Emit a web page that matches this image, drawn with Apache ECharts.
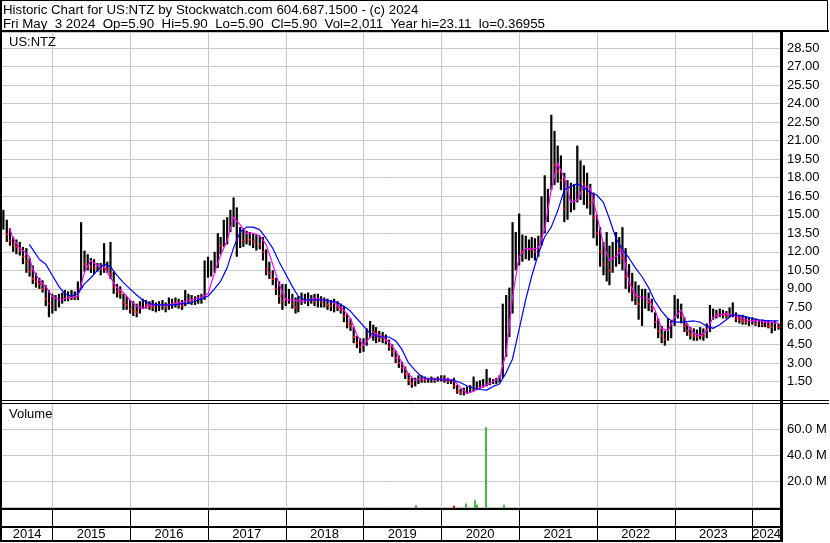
<!DOCTYPE html>
<html><head><meta charset="utf-8">
<script src="https://cdn.jsdelivr.net/npm/echarts@6/dist/echarts.min.js"></script>
<style>html,body{margin:0;padding:0;background:#fff}#c{width:830px;height:543px}</style>
</head><body><div id="c"></div>
<script>
// ---- price bars (semi-monthly high / low / close) ----
const dates = [
'2014-05-16','2014-06-01','2014-06-16','2014-07-01','2014-07-16','2014-08-01','2014-08-16','2014-09-01','2014-09-16','2014-10-01','2014-10-16','2014-11-01','2014-11-16','2014-12-01','2014-12-16',
'2015-01-01','2015-01-16','2015-02-01','2015-02-16','2015-03-01','2015-03-16','2015-04-01','2015-04-16','2015-05-01','2015-05-16','2015-06-01','2015-06-16','2015-07-01','2015-07-16','2015-08-01','2015-08-16','2015-09-01','2015-09-16','2015-10-01','2015-10-16','2015-11-01','2015-11-16','2015-12-01','2015-12-16',
'2016-01-01','2016-01-16','2016-02-01','2016-02-16','2016-03-01','2016-03-16','2016-04-01','2016-04-16','2016-05-01','2016-05-16','2016-06-01','2016-06-16','2016-07-01','2016-07-16','2016-08-01','2016-08-16','2016-09-01','2016-09-16','2016-10-01','2016-10-16','2016-11-01','2016-11-16','2016-12-01','2016-12-16',
'2017-01-01','2017-01-16','2017-02-01','2017-02-16','2017-03-01','2017-03-16','2017-04-01','2017-04-16','2017-05-01','2017-05-16','2017-06-01','2017-06-16','2017-07-01','2017-07-16','2017-08-01','2017-08-16','2017-09-01','2017-09-16','2017-10-01','2017-10-16','2017-11-01','2017-11-16','2017-12-01','2017-12-16',
'2018-01-01','2018-01-16','2018-02-01','2018-02-16','2018-03-01','2018-03-16','2018-04-01','2018-04-16','2018-05-01','2018-05-16','2018-06-01','2018-06-16','2018-07-01','2018-07-16','2018-08-01','2018-08-16','2018-09-01','2018-09-16','2018-10-01','2018-10-16','2018-11-01','2018-11-16','2018-12-01','2018-12-16',
'2019-01-01','2019-01-16','2019-02-01','2019-02-16','2019-03-01','2019-03-16','2019-04-01','2019-04-16','2019-05-01','2019-05-16','2019-06-01','2019-06-16','2019-07-01','2019-07-16','2019-08-01','2019-08-16','2019-09-01','2019-09-16','2019-10-01','2019-10-16','2019-11-01','2019-11-16','2019-12-01','2019-12-16',
'2020-01-01','2020-01-16','2020-02-01','2020-02-16','2020-03-01','2020-03-16','2020-04-01','2020-04-16','2020-05-01','2020-05-16','2020-06-01','2020-06-16','2020-07-01','2020-07-16','2020-08-01','2020-08-16','2020-09-01','2020-09-16','2020-10-01','2020-10-16','2020-11-01','2020-11-16','2020-12-01','2020-12-16',
'2021-01-01','2021-01-16','2021-02-01','2021-02-16','2021-03-01','2021-03-16','2021-04-01','2021-04-16','2021-05-01','2021-05-16','2021-06-01','2021-06-16','2021-07-01','2021-07-16','2021-08-01','2021-08-16','2021-09-01','2021-09-16','2021-10-01','2021-10-16','2021-11-01','2021-11-16','2021-12-01','2021-12-16',
'2022-01-01','2022-01-16','2022-02-01','2022-02-16','2022-03-01','2022-03-16','2022-04-01','2022-04-16','2022-05-01','2022-05-16','2022-06-01','2022-06-16','2022-07-01','2022-07-16','2022-08-01','2022-08-16','2022-09-01','2022-09-16','2022-10-01','2022-10-16','2022-11-01','2022-11-16','2022-12-01','2022-12-16',
'2023-01-01','2023-01-16','2023-02-01','2023-02-16','2023-03-01','2023-03-16','2023-04-01','2023-04-16','2023-05-01','2023-05-16','2023-06-01','2023-06-16','2023-07-01','2023-07-16','2023-08-01','2023-08-16','2023-09-01','2023-09-16','2023-10-01','2023-10-16','2023-11-01','2023-11-16','2023-12-01','2023-12-16',
'2024-01-01','2024-01-16','2024-02-01','2024-02-16','2024-03-01','2024-03-16','2024-04-01','2024-04-16','2024-05-03'
];
const highs = [
15.4,14.6,13.9,13.2,13.0,12.8,12.4,12.3,11.5,10.9,10.3,9.9,9.7,9.3,8.9,
8.6,8.5,8.6,8.7,8.9,8.8,8.9,8.8,9.6,14.4,12.1,11.8,11.5,11.4,11.1,11.1,12.7,11.2,12.8,10.4,9.4,9.2,8.6,8.4,
8.1,8.0,7.8,8.0,8.2,8.1,8.0,8.1,7.9,8.0,8.1,7.9,8.3,8.2,8.3,8.2,8.1,8.9,8.6,8.5,8.4,8.5,8.6,11.3,
11.6,11.3,12.0,13.5,13.2,14.6,14.8,15.4,16.4,15.6,14.0,13.8,13.7,13.6,13.5,13.4,13.3,13.2,12.2,11.2,10.5,9.9,9.6,9.4,
9.4,9.0,8.6,8.3,8.4,8.7,8.6,8.7,8.5,8.6,8.6,8.4,8.3,8.2,8.1,8.2,8.0,7.8,7.6,7.0,6.6,5.9,5.2,5.0,
5.0,5.8,6.4,6.1,5.9,5.6,5.5,5.3,4.9,4.5,4.0,3.6,3.1,2.7,2.2,1.8,1.8,2.0,2.0,1.9,1.8,1.9,1.8,1.9,
2.0,2.0,1.8,1.7,1.8,1.2,0.9,1.0,1.1,1.2,1.9,1.5,1.6,1.7,2.5,1.8,1.7,1.8,2.0,7.8,8.5,9.1,14.4,13.6,
15.1,13.4,13.3,13.0,13.2,13.1,13.3,16.5,18.2,17.1,23.1,21.8,20.6,19.8,18.4,17.8,17.6,17.5,20.6,19.4,19.0,18.4,17.5,16.8,
15.0,14.0,12.8,13.6,12.5,12.8,13.6,13.2,14.0,12.3,11.0,10.3,9.6,9.3,9.0,9.0,8.7,8.2,7.1,6.6,6.0,5.6,6.6,6.4,
8.5,8.2,7.8,6.7,6.2,5.9,5.8,5.7,5.9,5.8,6.2,7.7,7.4,7.3,7.4,7.3,7.2,7.5,7.9,7.1,6.9,6.9,6.8,6.7,
6.7,6.6,6.5,6.5,6.4,6.4,6.3,6.4,6.2
];
const lows = [
13.8,12.8,12.5,12.0,11.8,11.7,11.0,10.3,10.0,9.4,9.1,9.0,8.7,7.6,6.7,
7.0,7.2,7.5,7.8,8.0,8.0,8.1,8.1,8.1,9.0,10.4,10.5,10.3,10.2,10.4,10.1,10.3,10.3,9.8,8.6,8.3,8.2,7.3,7.3,
7.0,6.8,6.7,7.0,7.4,7.4,7.3,7.2,7.1,7.2,7.3,7.1,7.3,7.4,7.5,7.4,7.3,7.6,7.8,7.7,7.7,7.8,7.8,8.1,
9.9,10.0,10.3,10.7,11.8,12.4,12.6,13.6,14.0,11.6,12.3,12.4,12.6,12.5,12.3,12.1,12.2,11.3,10.1,9.8,9.3,8.5,7.8,7.3,
7.6,7.8,7.4,7.0,7.1,7.7,7.8,7.6,7.8,7.6,7.5,7.5,7.5,7.3,7.2,7.1,7.2,7.0,6.3,5.8,5.6,4.6,4.2,3.8,
3.9,4.4,5.0,4.8,4.6,4.7,4.6,4.5,4.0,3.5,3.0,2.6,2.2,1.7,1.2,1.0,1.1,1.3,1.4,1.4,1.4,1.4,1.4,1.5,
1.5,1.4,1.3,1.3,0.9,0.5,0.4,0.37,0.5,0.6,0.7,0.8,0.9,1.0,1.1,1.2,1.3,1.3,1.4,1.8,3.5,5.1,7.0,10.5,
10.9,11.2,11.4,11.3,11.5,11.3,11.6,12.5,13.5,14.4,17.0,17.4,17.6,17.0,14.4,14.6,15.2,15.4,16.0,16.2,15.8,15.5,15.0,13.1,
12.5,10.8,10.1,9.6,9.3,10.3,10.8,11.0,10.5,9.0,8.7,8.0,7.7,6.5,6.0,7.4,7.2,7.1,5.8,5.0,4.6,4.4,4.8,5.0,
6.0,6.6,6.2,5.5,5.2,4.9,4.8,4.8,4.9,4.8,5.0,5.5,6.5,6.6,6.7,6.6,6.6,6.7,6.7,6.3,6.2,6.1,6.1,6.0,
6.1,6.0,5.9,5.9,5.9,5.8,5.4,5.6,5.7
];
const closes = [
14.5,13.4,12.9,12.6,12.4,12.1,11.6,11.2,10.4,9.8,9.6,9.4,9.0,8.2,7.8,
7.8,8.0,8.1,8.2,8.4,8.3,8.4,8.3,9.0,11.8,11.0,11.2,10.8,10.7,10.8,10.6,10.9,10.6,10.2,9.2,8.8,8.6,7.9,7.7,
7.4,7.2,7.1,7.5,7.8,7.7,7.6,7.5,7.6,7.7,7.8,7.5,7.9,7.8,8.0,7.7,7.6,8.2,8.2,8.0,8.1,8.2,8.3,10.2,
10.6,10.8,11.5,12.8,12.5,13.5,14.0,14.6,15.2,13.0,13.2,12.9,13.4,13.0,12.8,12.9,12.6,12.0,10.6,10.3,9.8,9.0,8.4,8.0,
8.2,8.4,7.8,7.5,7.9,8.2,8.3,8.1,8.2,8.0,8.1,7.9,8.0,7.7,7.6,7.8,7.5,7.3,6.8,6.2,6.0,5.1,4.6,4.3,
4.6,5.3,5.8,5.5,5.2,5.0,5.1,4.8,4.3,3.9,3.4,3.0,2.6,2.1,1.6,1.3,1.4,1.7,1.8,1.6,1.6,1.7,1.6,1.7,
1.8,1.6,1.5,1.5,1.1,0.7,0.6,0.6,0.8,0.9,1.1,1.1,1.3,1.3,1.5,1.5,1.5,1.6,1.7,5.0,6.5,8.0,11.0,12.0,
12.5,12.0,12.3,12.2,12.4,12.0,12.6,14.8,16.0,16.2,19.5,19.0,18.5,17.8,15.5,16.0,16.3,16.6,18.0,18.5,17.5,16.8,16.0,14.8,
13.5,12.0,11.0,11.5,10.5,11.8,12.5,12.2,11.5,10.0,9.3,8.8,8.4,7.8,8.0,8.2,7.9,7.4,6.3,5.6,5.2,4.9,5.5,5.9,
7.2,7.5,6.9,6.0,5.6,5.3,5.2,5.1,5.3,5.2,5.6,7.0,7.0,6.9,7.0,6.9,6.8,7.0,7.1,6.6,6.5,6.4,6.3,6.3,
6.3,6.2,6.2,6.1,6.1,6.0,5.9,6.0,5.9
];

// ---- moving averages (monthly readings) ----
const maDates = [
'2014-06-15','2014-07-01','2014-08-01','2014-09-01','2014-09-15','2014-10-01','2014-11-01','2014-12-01',
'2015-01-01','2015-02-01','2015-03-01','2015-04-01','2015-05-01','2015-06-01','2015-07-01','2015-08-01','2015-09-01','2015-10-01','2015-11-01','2015-12-01',
'2016-01-01','2016-02-01','2016-03-01','2016-04-01','2016-05-01','2016-06-01','2016-07-01','2016-08-01','2016-09-01','2016-10-01','2016-11-01','2016-12-01',
'2017-01-01','2017-02-01','2017-03-01','2017-04-01','2017-05-01','2017-06-01','2017-07-01','2017-08-01','2017-09-01','2017-10-01','2017-11-01','2017-12-01',
'2018-01-01','2018-02-01','2018-03-01','2018-04-01','2018-05-01','2018-06-01','2018-07-01','2018-08-01','2018-09-01','2018-10-01','2018-11-01','2018-12-01',
'2019-01-01','2019-02-01','2019-03-01','2019-04-01','2019-05-01','2019-06-01','2019-07-01','2019-08-01','2019-09-01','2019-10-01','2019-11-01','2019-12-01',
'2020-01-01','2020-02-01','2020-03-01','2020-04-01','2020-05-01','2020-06-01','2020-07-01','2020-08-01','2020-09-01','2020-10-01','2020-11-01','2020-12-01',
'2021-01-01','2021-02-01','2021-03-01','2021-04-01','2021-05-01','2021-06-01','2021-07-01','2021-08-01','2021-09-01','2021-10-01','2021-11-01','2021-12-01',
'2022-01-01','2022-02-01','2022-03-01','2022-04-01','2022-05-01','2022-06-01','2022-07-01','2022-08-01','2022-09-01','2022-10-01','2022-11-01','2022-12-01',
'2023-01-01','2023-02-01','2023-03-01','2023-04-01','2023-05-01','2023-06-01','2023-07-01','2023-08-01','2023-09-01','2023-10-01','2023-11-01','2023-12-01',
'2024-01-01','2024-02-01','2024-03-01','2024-04-01','2024-05-03'
];
const maShort = [
13.9,13.1,12.3,11.9,11.6,10.6,9.7,9.2,
8.4,8.1,8.2,8.3,8.4,10.3,11.3,10.9,10.8,9.9,9.1,8.7,
8.1,7.6,7.4,7.7,7.7,7.7,7.7,7.8,7.9,8.1,8.2,8.3,
8.6,10.3,11.7,12.9,14.8,14.2,13.5,13.5,13.3,12.6,11.0,9.4,
8.1,8.1,8.0,8.0,8.2,8.2,8.1,8.0,7.7,7.3,6.6,5.3,
4.4,5.1,5.4,5.1,4.7,4.0,3.0,2.1,1.6,1.7,1.7,1.7,
1.7,1.7,1.6,1.0,0.55,0.7,1.0,1.2,1.5,1.8,3.8,8.3,
11.6,12.3,12.2,12.3,13.8,17.0,19.2,18.0,16.0,16.2,17.3,17.2,
15.0,12.6,11.3,11.6,12.2,9.6,8.5,8.3,8.2,7.3,5.8,5.6,
6.7,7.3,6.1,5.4,5.2,5.6,6.7,6.9,7.0,6.9,6.7,6.5,
6.4,6.4,6.3,6.3,6.2
];
const maLong = [
null,null,null,null,12.6,12.2,11.4,11.0,
10.1,9.2,8.6,8.4,8.6,9.4,9.9,10.5,11.0,10.8,10.1,9.5,
9.0,8.5,8.1,7.8,7.7,7.7,7.7,7.7,7.8,7.8,8.0,8.2,
8.4,9.0,9.6,10.7,12.3,13.6,14.0,14.0,13.8,13.1,12.3,11.2,
10.2,9.2,8.4,8.1,8.1,8.1,8.1,8.0,7.9,7.6,7.2,6.6,
6.0,5.4,5.2,5.1,5.1,4.8,4.1,3.0,2.4,1.9,1.7,1.7,
1.65,1.6,1.6,1.4,1.15,0.95,0.85,0.8,1.1,1.3,2.2,3.3,
5.7,8.1,10.0,11.8,13.2,14.0,15.3,17.0,17.3,17.5,17.2,16.8,
16.6,16.0,14.7,13.1,12.2,11.5,10.7,10.0,9.1,8.0,7.2,6.6,
6.3,6.3,6.35,6.4,6.3,6.0,5.8,6.1,6.5,6.9,6.85,6.75,
6.6,6.5,6.45,6.4,6.4
];

// ---- volume (millions; only bars tall enough to be seen) ----
const volDates = ['2019-09-05','2020-03-01','2020-04-27','2020-06-09','2020-06-16','2020-07-28','2020-10-20'];
const volumes  = [1.3, 1.0, 2.6, 5.1, 1.8, 61.3, 1.8];
const volDown  = [false, true, false, false, false, false, false];

// ---- axis text ----
const years = ['2014','2015','2016','2017','2018','2019','2020','2021','2022','2023','2024'];
const headerLine1 = 'Historic Chart for US:NTZ by Stockwatch.com 604.687.1500 - (c) 2024';
const headerLine2 = 'Fri May  3 2024  Op=5.90  Hi=5.90  Lo=5.90  Cl=5.90  Vol=2,011  Year hi=23.11  lo=0.36955';
const symbolLabel = 'US:NTZ';
const volumeLabel = 'Volume';

// ---------------------------------------------------------------
const FONT = '"Liberation Sans", Arial, Helvetica, sans-serif';
const X_MIN = '2014-05-10', X_MAX = '2024-05-15';
const GRID_GRAY = '#c8c8c8';

const yearStarts = years.slice(1).map(y => [y + '-01-01', 0]);
const yearSpans = years.map(y => [y + '-01-01', (Number(y) + 1) + '-01-01', y]);

function separators(color) {
  return function (params, api) {
    const cs = params.coordSys;
    let x = api.coord([api.value(0), 0])[0];
    x = Math.round(x) + 0.5;
    return { type: 'line', shape: { x1: x, y1: cs.y, x2: x, y2: cs.y + cs.height },
      style: { stroke: color, lineWidth: 1 } };
  };
}

const chart = echarts.init(document.getElementById('c'), null, { renderer: 'canvas' });

const xAxisBase = { type: 'time', min: X_MIN, max: X_MAX, show: false };

const option = {
  animation: false,
  backgroundColor: '#fff',
  grid: [
    { left: 2, right: 49, top: 32, height: 368 },
    { left: 2, right: 49, top: 403, height: 104 },
    { left: 2, right: 49, top: 509, height: 32 }
  ],
  xAxis: [
    Object.assign({ gridIndex: 0 }, xAxisBase),
    Object.assign({ gridIndex: 1 }, xAxisBase),
    Object.assign({ gridIndex: 2 }, xAxisBase)
  ],
  yAxis: [
    { gridIndex: 0, type: 'value', position: 'right', min: 0, max: 29.8, interval: 1.5,
      axisLine: { show: false }, axisTick: { show: false },
      splitLine: { show: true, lineStyle: { color: GRID_GRAY, width: 1 } },
      axisLabel: { color: '#000', fontSize: 13, fontFamily: FONT, margin: 6,
        showMinLabel: false, showMaxLabel: false, formatter: v => v.toFixed(2) } },
    { gridIndex: 1, type: 'value', position: 'right', min: 0, max: 80, interval: 20,
      axisLine: { show: false }, axisTick: { show: false },
      splitLine: { show: true, lineStyle: { color: GRID_GRAY, width: 1 } },
      axisLabel: { color: '#000', fontSize: 13, fontFamily: FONT, margin: 6,
        showMinLabel: false, showMaxLabel: false, formatter: v => v.toFixed(1) + ' M' } },
    { gridIndex: 2, type: 'value', min: 0, max: 1, show: false }
  ],
  series: [
    { type: 'custom', name: 'sepPrice', xAxisIndex: 0, yAxisIndex: 0, z: 1, silent: true,
      data: yearStarts, encode: { x: 0, y: 1 }, renderItem: separators(GRID_GRAY) },
    { type: 'custom', name: 'sepVol', xAxisIndex: 1, yAxisIndex: 1, z: 1, silent: true,
      data: yearStarts, encode: { x: 0, y: 1 }, renderItem: separators(GRID_GRAY) },
    { type: 'custom', name: 'sepAxis', xAxisIndex: 2, yAxisIndex: 2, z: 1, silent: true,
      data: yearStarts, encode: { x: 0, y: 1 }, renderItem: separators('#000') },
    { type: 'custom', name: 'years', xAxisIndex: 2, yAxisIndex: 2, z: 2, silent: true,
      data: yearSpans, encode: { x: [0, 1] },
      renderItem: function (params, api) {
        const cs = params.coordSys;
        const a = Math.max(api.coord([api.value(0), 0])[0], cs.x);
        const b = Math.min(api.coord([api.value(1), 0])[0], cs.x + cs.width);
        return { type: 'text', x: (a + b) / 2, y: cs.y + cs.height - 7,
          style: { text: yearSpans[params.dataIndex][2], fill: '#000', font: '13px ' + FONT,
            align: 'center', verticalAlign: 'middle' } };
      } },
    { type: 'custom', name: 'price', xAxisIndex: 0, yAxisIndex: 0, z: 3, silent: true,
      data: dates.map((d, i) => [d, lows[i], highs[i], closes[i]]),
      encode: { x: 0, y: [1, 2] },
      renderItem: function (params, api) {
        const d = api.value(0);
        const lo = api.coord([d, api.value(1)]);
        const hi = api.coord([d, api.value(2)]);
        const cl = api.coord([d, api.value(3)]);
        const i = params.dataIndex;
        const ch = [{ type: 'rect', shape: { x: lo[0] - 1, y: hi[1], width: 2.2, height: Math.max(1, lo[1] - hi[1]) },
          style: { fill: '#000' } }];
        if (i > 0 && closes[i] < closes[i - 1]) {
          ch.push({ type: 'rect', shape: { x: cl[0] - 0.5, y: cl[1] - 1, width: 2, height: 2 }, style: { fill: '#ff0000' } });
        }
        return { type: 'group', children: ch };
      } },
    { type: 'line', name: 'maShort', xAxisIndex: 0, yAxisIndex: 0, z: 4, silent: true,
      data: maDates.map((d, i) => [d, maShort[i]]), showSymbol: false, connectNulls: false,
      lineStyle: { color: '#ff00ff', width: 1.2 } },
    { type: 'line', name: 'maLong', xAxisIndex: 0, yAxisIndex: 0, z: 4, silent: true,
      data: maDates.map((d, i) => [d, maLong[i]]), showSymbol: false, connectNulls: false,
      lineStyle: { color: '#0000ff', width: 1.2 } },
    { type: 'custom', name: 'volume', xAxisIndex: 1, yAxisIndex: 1, z: 3, silent: true,
      data: volDates.map((d, i) => [d, volumes[i]]), encode: { x: 0, y: 1 },
      renderItem: function (params, api) {
        const d = api.value(0);
        const base = api.coord([d, 0]);
        const top = api.coord([d, api.value(1)]);
        return { type: 'rect', shape: { x: Math.round(base[0]) - 1, y: top[1], width: 2, height: base[1] - top[1] + 1 },
          style: { fill: volDown[params.dataIndex] ? '#e00000' : '#4cb44c' } };
      } }
  ],
  graphic: [
    { type: 'rect', z: 100, silent: true, shape: { x: 0.5, y: 0.5, width: 827, height: 30 }, style: { fill: 'none', stroke: '#000', lineWidth: 1 } },
    { type: 'line', z: 100, silent: true, shape: { x1: 0, y1: 31, x2: 829, y2: 31 }, style: { stroke: '#000', lineWidth: 2 } },
    { type: 'line', z: 100, silent: true, shape: { x1: 1, y1: 0, x2: 1, y2: 542 }, style: { stroke: '#000', lineWidth: 2 } },
    { type: 'line', z: 100, silent: true, shape: { x1: 781.5, y1: 31, x2: 781.5, y2: 542 }, style: { stroke: '#000', lineWidth: 3 } },
    { type: 'line', z: 100, silent: true, shape: { x1: 0, y1: 400.5, x2: 829, y2: 400.5 }, style: { stroke: '#000', lineWidth: 1 } },
    { type: 'line', z: 100, silent: true, shape: { x1: 0, y1: 403.5, x2: 829, y2: 403.5 }, style: { stroke: '#000', lineWidth: 1 } },
    { type: 'line', z: 100, silent: true, shape: { x1: 0, y1: 509, x2: 783, y2: 509 }, style: { stroke: '#000', lineWidth: 2 } },
    { type: 'line', z: 100, silent: true, shape: { x1: 0, y1: 527, x2: 783, y2: 527 }, style: { stroke: '#000', lineWidth: 2 } },
    { type: 'line', z: 100, silent: true, shape: { x1: 0, y1: 541, x2: 783, y2: 541 }, style: { stroke: '#000', lineWidth: 2 } },
    { type: 'text', z: 100, silent: true, x: 3, y: 10, style: { text: headerLine1, fill: '#000', font: '13.3px ' + FONT, align: 'left', verticalAlign: 'middle' } },
    { type: 'text', z: 100, silent: true, x: 3, y: 24, style: { text: headerLine2, fill: '#000', font: '13.3px ' + FONT, align: 'left', verticalAlign: 'middle' } },
    { type: 'text', z: 100, silent: true, x: 9, y: 42, style: { text: symbolLabel, fill: '#000', font: '13px ' + FONT, align: 'left', verticalAlign: 'middle' } },
    { type: 'text', z: 100, silent: true, x: 9, y: 414, style: { text: volumeLabel, fill: '#000', font: '13px ' + FONT, align: 'left', verticalAlign: 'middle' } }
  ]
};
chart.setOption(option);
</script>
</body></html>
